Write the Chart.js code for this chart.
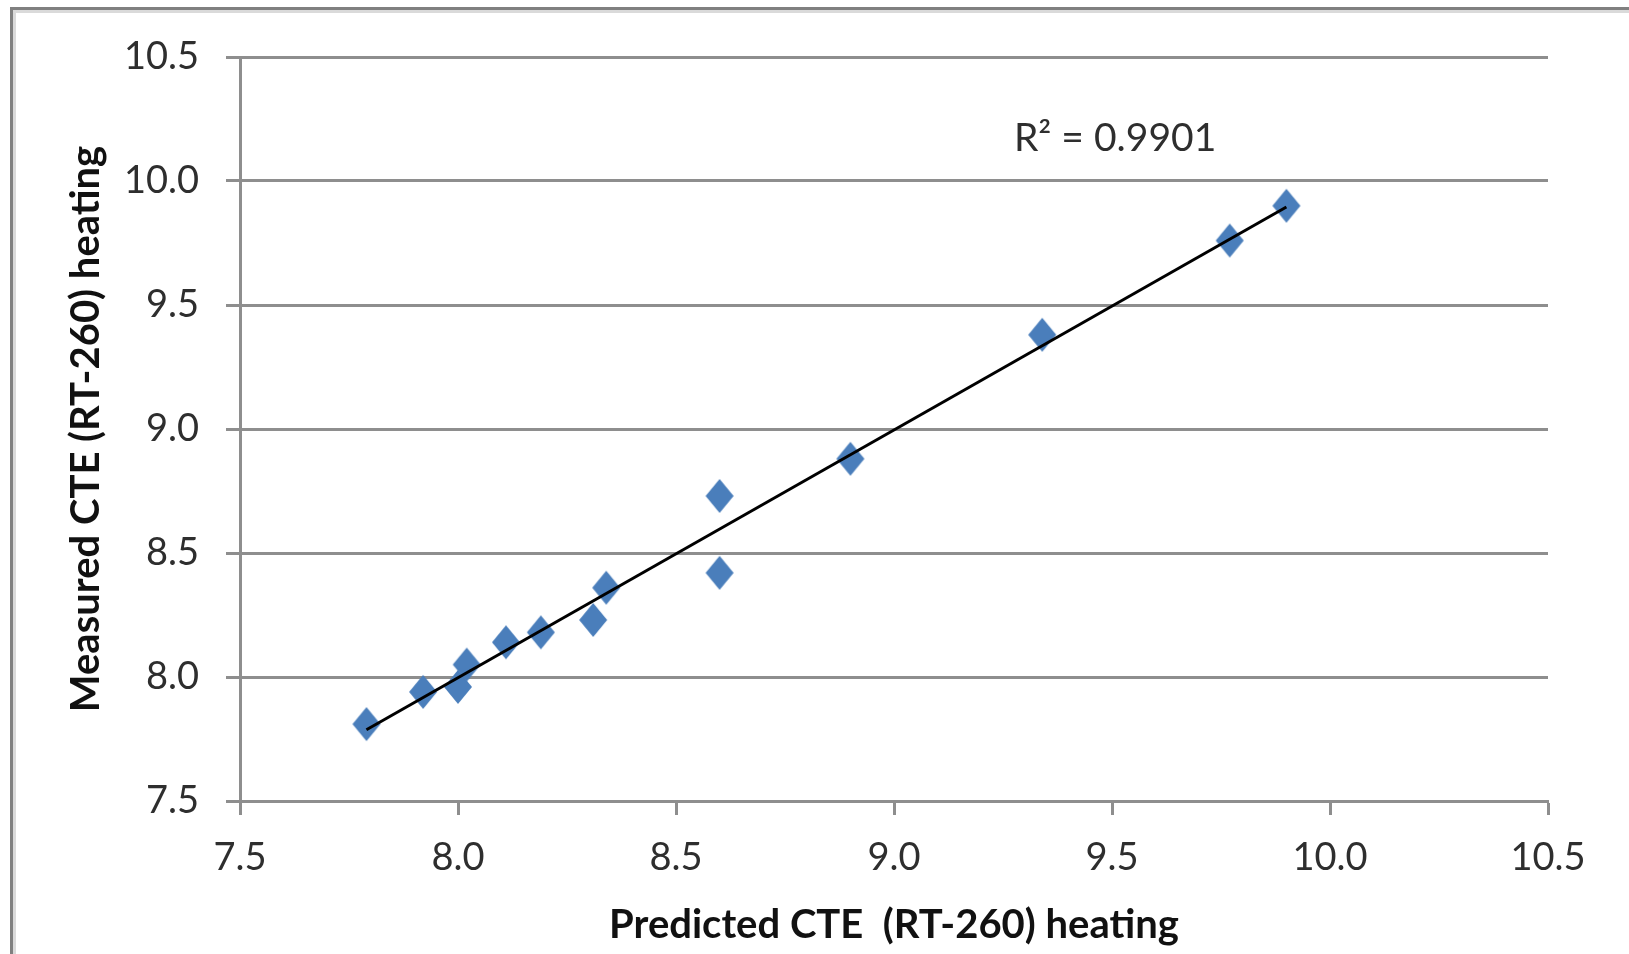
<!DOCTYPE html>
<html>
<head>
<meta charset="utf-8">
<script src="https://cdn.jsdelivr.net/npm/chart.js@4.4.1/dist/chart.umd.min.js"></script>
<style>
  html, body { margin: 0; padding: 0; background: #fff; }
  #wrap { position: relative; width: 1629px; height: 954px; }
</style>
</head>
<body>
<div id="wrap"><canvas id="cteChart" width="1629" height="954"></canvas></div>
<script>
// Predicted vs measured CTE (RT-260) heating
const predicted = [7.79, 7.92, 8.00, 8.02, 8.11, 8.19, 8.31, 8.34, 8.60, 8.60, 8.90, 9.34, 9.77, 9.90];
const measured  = [7.81, 7.94, 7.96, 8.05, 8.14, 8.18, 8.23, 8.36, 8.73, 8.42, 8.88, 9.38, 9.76, 9.90];
const xTicks = [7.5, 8.0, 8.5, 9.0, 9.5, 10.0, 10.5];
const yTicks = [7.5, 8.0, 8.5, 9.0, 9.5, 10.0, 10.5];
const r2Text = "R\u00B2 = 0.9901";
const r2Pos = { x: 9.275, y: 10.17 };

// linear trendline (least squares), like the Excel one
function linearFit(xs, ys) {
  const n = xs.length;
  const mx = xs.reduce((a, b) => a + b, 0) / n;
  const my = ys.reduce((a, b) => a + b, 0) / n;
  let sxy = 0, sxx = 0;
  for (let i = 0; i < n; i++) {
    sxy += (xs[i] - mx) * (ys[i] - my);
    sxx += (xs[i] - mx) * (xs[i] - mx);
  }
  const slope = sxy / sxx;
  return { slope, intercept: my - slope * mx };
}
const fit = linearFit(predicted, measured);
const xMin = Math.min(...predicted);
const xMax = Math.max(...predicted);
const trendData = [
  { x: xMin, y: fit.intercept + fit.slope * xMin },
  { x: xMax, y: fit.intercept + fit.slope * xMax },
];

const gridColor = "#8e8e8e";
const textColor = "#2e2e2e";
const markerColor = "#4a7ebb";

// diamond marker, a bit taller than wide
const diamond = document.createElement("canvas");
diamond.width = 30;
diamond.height = 36;
(function () {
  const c = diamond.getContext("2d");
  c.fillStyle = markerColor;
  c.beginPath();
  c.moveTo(15, 1);
  c.lineTo(29, 18);
  c.lineTo(15, 35);
  c.lineTo(1, 18);
  c.closePath();
  c.fill();
})();

const framePlugin = {
  id: "frame",
  beforeDraw(chart) {
    const c = chart.ctx;
    c.save();
    c.fillStyle = "#fff";
    c.fillRect(0, 0, chart.width, chart.height);
    c.fillStyle = "#dadada";
    c.fillRect(13, 10, chart.width, 3);
    c.fillRect(13, 10, 3, chart.height);
    c.fillStyle = "#808080";
    c.fillRect(10, 7, chart.width, 3);
    c.fillRect(10, 7, 3, chart.height);
    c.restore();
  },
  afterDatasetsDraw(chart) {
    const c = chart.ctx;
    const xs = chart.scales.x, ys = chart.scales.y;
    c.save();
    c.font = "39px Lato";
    c.fillStyle = textColor;
    c.textAlign = "left";
    c.textBaseline = "middle";
    c.fillText(r2Text, xs.getPixelForValue(r2Pos.x), ys.getPixelForValue(r2Pos.y));
    c.restore();
  },
};

const ctx = document.getElementById("cteChart").getContext("2d");
new Chart(ctx, {
  type: "scatter",
  data: {
    datasets: [
      {
        type: "line",
        label: "Trend",
        data: trendData,
        borderColor: "#000",
        borderWidth: 3,
        pointRadius: 0,
        fill: false,
        order: 0,
      },
      {
        label: "Measured",
        data: predicted.map((x, i) => ({ x, y: measured[i] })),
        pointStyle: diamond,
        pointRadius: 15,
        order: 1,
      },
    ],
  },
  options: {
    responsive: false,
    animation: false,
    events: [],
    layout: { padding: { left: 10, right: 81, top: 57, bottom: 0 } },
    plugins: { legend: { display: false }, tooltip: { enabled: false } },
    scales: {
      x: {
        type: "linear",
        min: 7.5,
        max: 10.5,
        afterFit: (s) => { s.height = 153; },
        afterBuildTicks: (s) => { s.ticks = xTicks.map((v) => ({ value: v })); },
        grid: { drawOnChartArea: false, drawTicks: true, tickLength: 14, tickWidth: 3, tickColor: gridColor },
        border: { color: gridColor, width: 3 },
        ticks: {
          color: textColor,
          padding: 20,
          maxRotation: 0,
          font: { family: "Lato", size: 38 },
          callback: (v) => v.toFixed(1),
        },
        title: {
          display: true,
          text: "Predicted CTE  (RT-260) heating",
          color: "#111",
          padding: { top: 0, bottom: 5 },
          font: { family: "Lato", size: 40, weight: "bold", lineHeight: 1.2 },
        },
      },
      y: {
        type: "linear",
        min: 7.5,
        max: 10.5,
        afterFit: (s) => { s.width = 230; },
        afterBuildTicks: (s) => { s.ticks = yTicks.map((v) => ({ value: v })); },
        grid: { color: gridColor, lineWidth: 3, drawTicks: true, tickLength: 14 },
        border: { color: gridColor, width: 3 },
        ticks: {
          color: textColor,
          padding: 27,
          font: { family: "Lato", size: 38 },
          callback: (v) => v.toFixed(1),
        },
        title: {
          display: true,
          text: "Measured CTE (RT-260) heating",
          color: "#111",
          padding: { top: 52, bottom: 0 },
          font: { family: "Lato", size: 40, weight: "bold", lineHeight: 1.2 },
        },
      },
    },
  },
  plugins: [framePlugin],
});
</script>
</body>
</html>
